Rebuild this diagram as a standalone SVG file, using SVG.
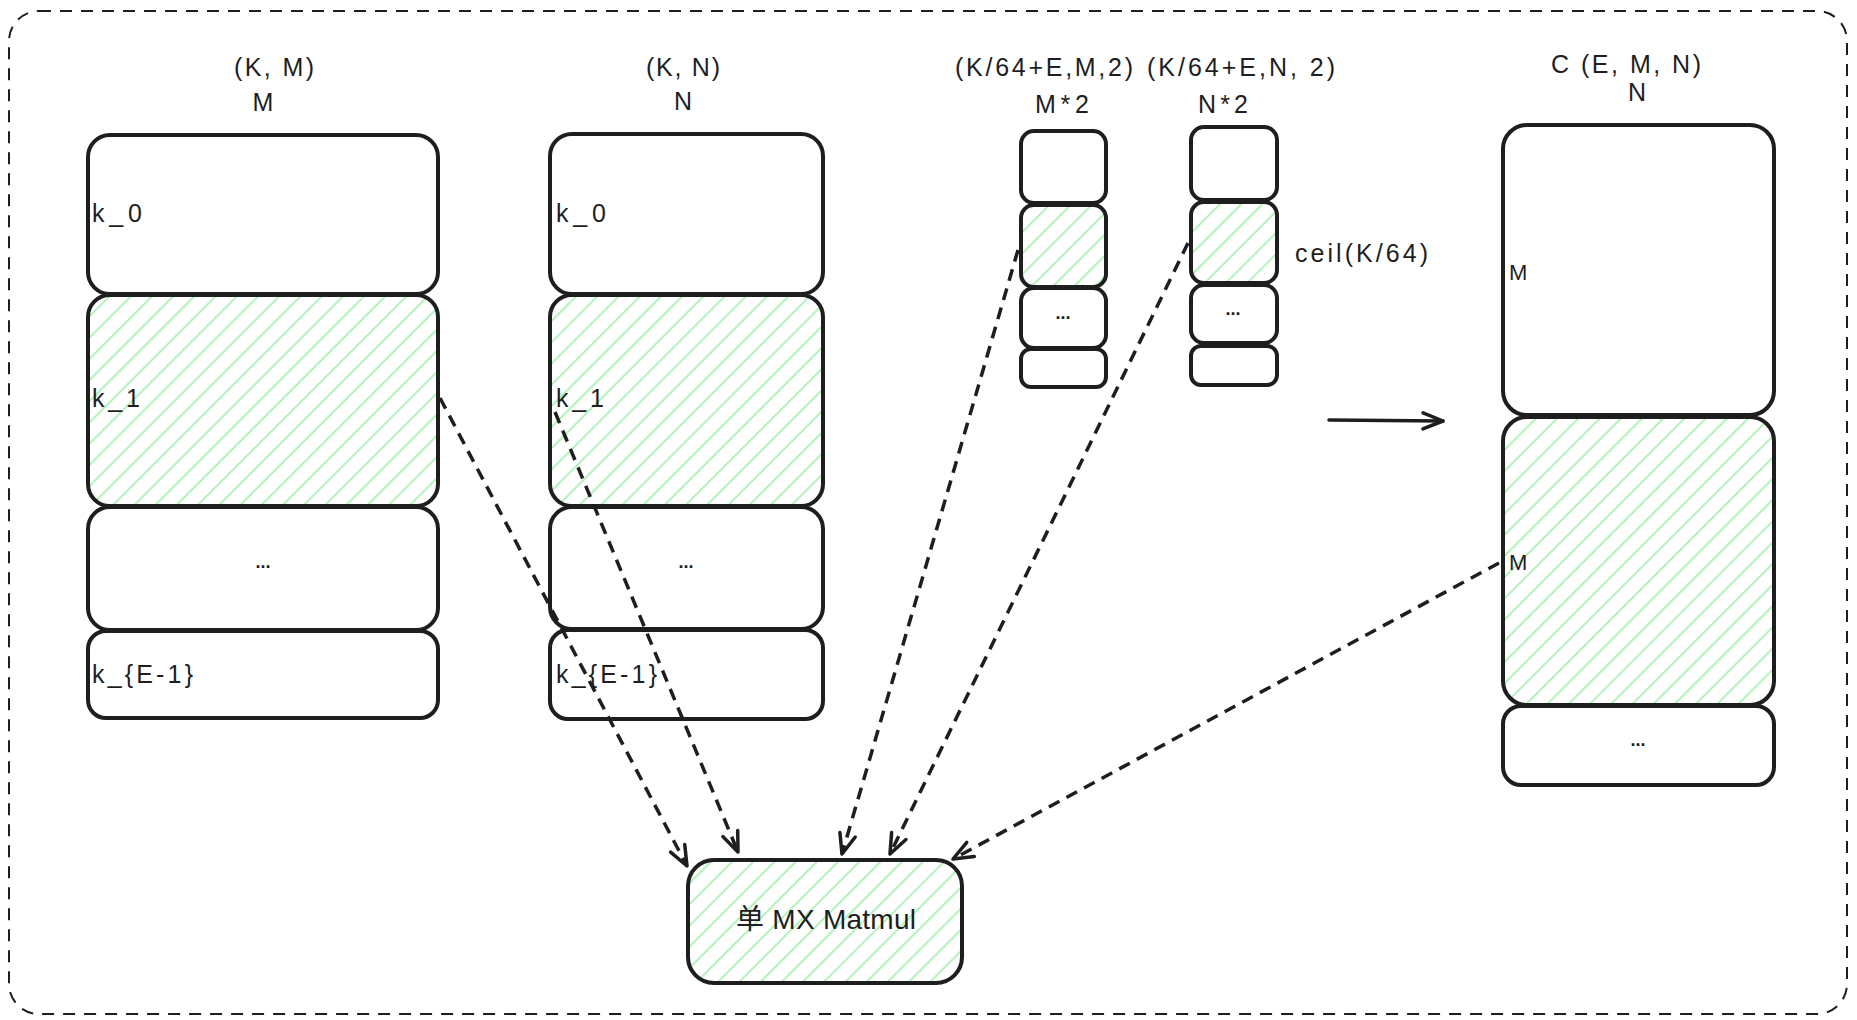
<svg xmlns="http://www.w3.org/2000/svg" width="1857" height="1020" viewBox="0 0 1857 1020">
<style>
.box{fill:#ffffff;stroke:#1e1e1e;stroke-width:4}
.hb{fill:url(#hatch);stroke:#1e1e1e;stroke-width:4}
.t{font-family:"Liberation Sans","Noto Sans CJK SC",sans-serif;fill:#1e1e1e}
.hd{font-size:25px;text-anchor:middle}
.lb{font-size:25px}
.dots{font-size:18px;text-anchor:middle;font-weight:bold}
.conn{fill:none;stroke:#1e1e1e;stroke-width:3.5;stroke-dasharray:12 8}
</style>
<defs>
<pattern id="hatch" patternUnits="userSpaceOnUse" width="15" height="15" patternTransform="rotate(45)">
<rect width="15" height="15" fill="#ffffff"/>
<line x1="2" y1="0" x2="2" y2="15" stroke="#b2f2bb" stroke-width="2"/>
</pattern>
<marker id="arr" viewBox="-24 -12 28 24" refX="0" refY="0" markerWidth="28" markerHeight="24" markerUnits="userSpaceOnUse" orient="auto">
<path d="M-20,-8 L0,0 L-20,8" fill="none" stroke="#1e1e1e" stroke-width="3.5" stroke-linecap="round" stroke-linejoin="round"/>
</marker>
</defs>
<rect x="0" y="0" width="1857" height="1020" fill="#ffffff"/>
<g id="frame">
<rect x="9" y="11" width="1838" height="1003" rx="30" fill="none" stroke="#1e1e1e" stroke-width="2" stroke-dasharray="12 9"/>
</g>

<g id="col-A">
<text class="t hd" x="274" y="76" textLength="80">(K, M)</text>
<text class="t hd" x="263" y="111">M</text>
<g id="A-k0"><rect class="box" x="88" y="135" width="350" height="159" rx="22"/><text class="t lb" x="92" y="222" textLength="50">k_0</text></g>
<g id="A-k1"><rect class="hb" x="88" y="295" width="350" height="211" rx="22"/><text class="t lb" x="92" y="407" textLength="48">k_1</text></g>
<g id="A-dots"><rect class="box" x="88" y="507" width="350" height="123" rx="22"/><text class="t dots" x="263" y="568">...</text></g>
<g id="A-kE"><rect class="box" x="88" y="631" width="350" height="87" rx="18"/><text class="t lb" x="92" y="683" textLength="101">k_{E-1}</text></g>
</g>

<g id="col-B">
<text class="t hd" x="683" y="76" textLength="74">(K, N)</text>
<text class="t hd" x="683" y="110">N</text>
<g id="B-k0"><rect class="box" x="550" y="134" width="273" height="160" rx="22"/><text class="t lb" x="556" y="222" textLength="50">k_0</text></g>
<g id="B-k1"><rect class="hb" x="550" y="295" width="273" height="211" rx="22"/><text class="t lb" x="556" y="407" textLength="48">k_1</text></g>
<g id="B-dots"><rect class="box" x="550" y="507" width="273" height="122" rx="22"/><text class="t dots" x="686" y="568">...</text></g>
<g id="B-kE"><rect class="box" x="550" y="630" width="273" height="89" rx="18"/><text class="t lb" x="556" y="683" textLength="101">k_{E-1}</text></g>
</g>

<g id="col-C">
<text class="t hd" x="1044" y="76" textLength="178">(K/64+E,M,2)</text>
<text class="t hd" x="1062" y="113" textLength="54">M*2</text>
<g id="C-0"><rect class="box" x="1021" y="131" width="85" height="72" rx="13"/></g>
<g id="C-1"><rect class="hb" x="1021" y="205" width="85" height="82" rx="13"/></g>
<g id="C-2"><rect class="box" x="1021" y="288" width="85" height="60" rx="13"/><text class="t dots" x="1063" y="319">...</text></g>
<g id="C-3"><rect class="box" x="1021" y="349" width="85" height="38" rx="10"/></g>
</g>

<g id="col-D">
<text class="t hd" x="1241" y="76" textLength="188">(K/64+E,N, 2)</text>
<text class="t hd" x="1223" y="113" textLength="50">N*2</text>
<g id="D-0"><rect class="box" x="1191" y="127" width="86" height="73" rx="13"/></g>
<g id="D-1"><rect class="hb" x="1191" y="202" width="86" height="81" rx="13"/></g>
<g id="D-2"><rect class="box" x="1191" y="285" width="86" height="58" rx="13"/><text class="t dots" x="1233" y="315">...</text></g>
<g id="D-3"><rect class="box" x="1191" y="346" width="86" height="39" rx="10"/></g>
<text class="t lb" x="1295" y="262" textLength="133">ceil(K/64)</text>
</g>

<g id="col-E">
<text class="t hd" x="1626" y="73" textLength="150">C (E, M, N)</text>
<text class="t hd" x="1637" y="101">N</text>
<g id="E-0"><rect class="box" x="1503" y="125" width="271" height="290" rx="24"/><text class="t" x="1509" y="280" font-size="22">M</text></g>
<g id="E-1"><rect class="hb" x="1503" y="417" width="271" height="288" rx="24"/><text class="t" x="1509" y="570" font-size="22">M</text></g>
<g id="E-2"><rect class="box" x="1503" y="706" width="271" height="79" rx="18"/><text class="t dots" x="1638" y="746">...</text></g>
</g>

<g id="matmul">
<rect class="hb" x="688" y="860" width="274" height="123" rx="26"/>
<text class="t" x="826" y="929" font-size="28" text-anchor="middle" textLength="180">单 MX Matmul</text>
</g>

<g id="connectors">
<path class="conn" d="M440,398 L687,866" marker-end="url(#arr)"/>
<path class="conn" d="M555,412 L738,852" marker-end="url(#arr)"/>
<path class="conn" d="M1018,250 L842,854" marker-end="url(#arr)"/>
<path class="conn" d="M1188,243 L890,854" marker-end="url(#arr)"/>
<path class="conn" d="M1499,563 L953,859" marker-end="url(#arr)"/>
<path d="M1329,420 L1443,421" fill="none" stroke="#1e1e1e" stroke-width="3.5" stroke-linecap="round" marker-end="url(#arr)"/>
</g>
</svg>
